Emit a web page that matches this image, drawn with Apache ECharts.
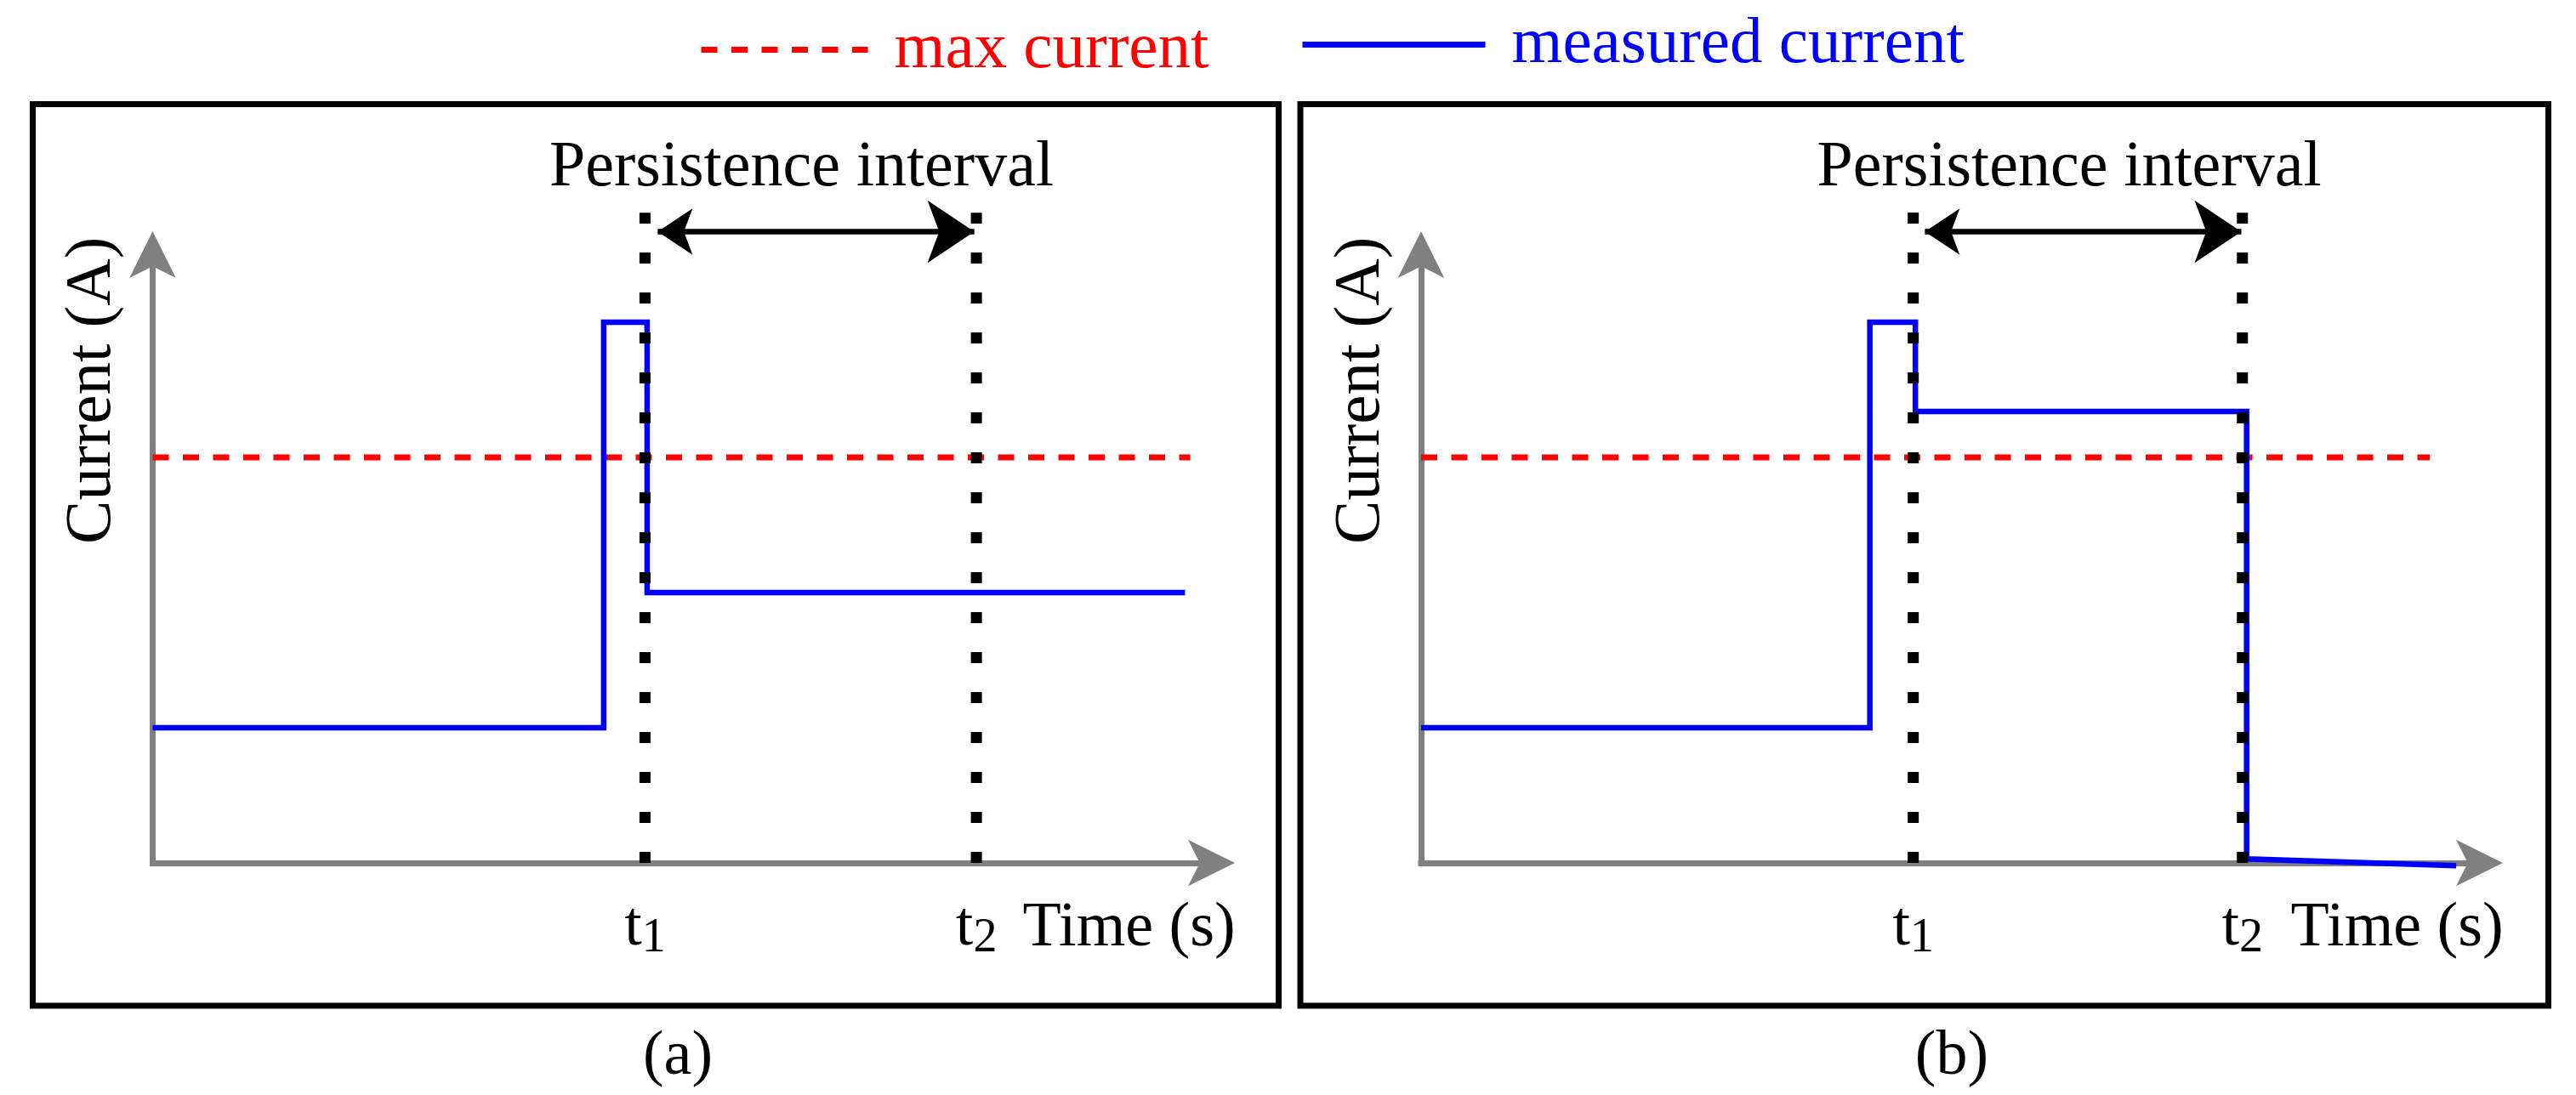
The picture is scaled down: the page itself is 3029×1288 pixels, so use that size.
<!DOCTYPE html>
<html>
<head>
<meta charset="utf-8">
<script src="https://cdn.jsdelivr.net/npm/echarts@6.0.0/dist/echarts.min.js"></script>
<style>
  html, body { margin: 0; padding: 0; background: #fff; }
  #chart { width: 3029px; height: 1288px; }
</style>
</head>
<body>
<div id="chart"></div>
<script>
// schematic units: x = time, y = current
const FONT = "'Liberation Serif', 'DejaVu Serif', serif";
const tickSubs = ["1", "2"];
const timesA = [4.65, 7.78]; // t1, t2 panel (a)
const timesB = [4.65, 7.76]; // t1, t2 panel (b)
const maxCurrent = 3;
const maxEndA = 9.8;
const maxEndB = 9.53;
const measuredAX = [0, 4.26, 4.26, 4.67, 4.67, 9.75];
const measuredAY = [1, 1, 4, 4, 2, 2];
const measuredBX = [0, 4.24, 4.24, 4.67, 4.67, 7.8, 7.8, 9.78];
const measuredBY = [1, 1, 4, 4, 3.34, 3.34, 0.03, -0.02];
const dotTopA = [4.81, 4.81];
const dotTopB = [4.89, 4.81];
const arrowA = [4.77, 7.76];
const arrowB = [4.76, 7.75];
const arrowY = 4.67;

const RED = "#ff0000";
const BLUE = "#0000ff";
const GRAY = "#808080";

let chart = echarts.init(document.getElementById("chart"), null, { renderer: "canvas" });

function pairs(xs, ys) {
  return xs.map((x, i) => [x, ys[i]]);
}

function subLabel(times) {
  return function (v) {
    let i = times.indexOf(v);
    return "{t|t}{s|" + tickSubs[i] + "}";
  };
}

function xAxisFor(idx, times) {
  return {
    type: "value",
    gridIndex: idx,
    min: 0,
    max: 10,
    splitLine: { show: false },
    axisTick: { show: false },
    axisLine: {
      show: true,
      onZero: false,
      symbol: ["none", "arrow"],
      symbolSize: [41, 55],
      symbolOffset: [0, 27.5],
      lineStyle: { color: GRAY, width: 7, cap: "square" },
    },
    axisLabel: {
      show: true,
      customValues: times,
      formatter: subLabel(times),
      margin: 37,
      rich: {
        t: { fontFamily: FONT, fontSize: 74, color: "#000", lineHeight: 80 },
        s: { fontFamily: FONT, fontSize: 56, color: "#000", lineHeight: 34, verticalAlign: "bottom" },
      },
    },
    name: "Time (s)",
    nameLocation: "end",
    nameGap: -222,
    nameMoveOverlap: false,
    nameTextStyle: {
      fontFamily: FONT,
      fontSize: 74,
      color: "#000",
      verticalAlign: "top",
      lineHeight: 156,
    },
  };
}

function yAxisFor(idx) {
  return {
    type: "value",
    gridIndex: idx,
    min: 0,
    max: 4.5,
    splitLine: { show: false },
    axisTick: { show: false },
    axisLabel: { show: false },
    axisLine: {
      show: true,
      onZero: false,
      symbol: ["none", "arrow"],
      symbolSize: [41, 55],
      symbolOffset: [0, 27.5],
      lineStyle: { color: GRAY, width: 7, cap: "square" },
    },
    name: "Current (A)",
    nameLocation: "middle",
    nameGap: 32,
    nameMoveOverlap: false,
    nameTextStyle: {
      fontFamily: FONT,
      fontSize: 77,
      color: "#000",
      lineHeight: 77,
      padding: [0, 0, 0, 396],
    },
  };
}

function panelSeries(idx, mx, my, maxEnd, times, tops, arrow) {
  let list = [
    {
      name: "max current",
      type: "line",
      xAxisIndex: idx,
      yAxisIndex: idx,
      data: [[0, maxCurrent], [maxEnd, maxCurrent]],
      showSymbol: false,
      symbol: "none",
      clip: false,
      z: 2,
      lineStyle: { color: RED, width: 7, type: [19, 16.5], cap: "butt" },
      itemStyle: { color: RED },
    },
    {
      name: "measured current",
      type: "line",
      xAxisIndex: idx,
      yAxisIndex: idx,
      data: pairs(mx, my),
      showSymbol: false,
      symbol: "none",
      clip: false,
      z: 3,
      lineStyle: { color: BLUE, width: 6.5, join: "miter" },
      itemStyle: { color: BLUE },
    },
  ];
  times.forEach((t, i) => {
    list.push({
      type: "line",
      xAxisIndex: idx,
      yAxisIndex: idx,
      data: [[t, 0], [t, tops[i]]],
      showSymbol: false,
      symbol: "none",
      clip: false,
      z: 4,
      lineStyle: { color: "#000", width: 13, type: [13, 34], cap: "butt" },
    });
  });
  // persistence interval double arrow
  list.push({
    type: "lines",
    coordinateSystem: "cartesian2d",
    xAxisIndex: idx,
    yAxisIndex: idx,
    clip: false,
    silent: true,
    z: 5,
    symbol: ["arrow", "arrow"],
    symbolSize: [41, 55],
    lineStyle: { color: "#000", width: 6.5, opacity: 1, curveness: 0 },
    data: [{ coords: [[arrow[0], arrowY], [arrow[1], arrowY]] }],
  });
  return list;
}

function txt(text, x, y, size) {
  return {
    type: "text",
    x: x,
    y: y,
    style: {
      text: text,
      font: size + "px " + FONT,
      fill: "#000",
      align: "center",
      verticalAlign: "middle",
      textAlign: "center",
      textVerticalAlign: "middle",
    },
  };
}

let option = {
  animation: false,
  backgroundColor: "#fff",
  legend: [
    {
      data: ["max current"],
      left: 821,
      top: 20,
      padding: 0,
      itemWidth: 196,
      itemHeight: 14,
      selectedMode: false,
      lineStyle: { width: 7 },
      itemStyle: { opacity: 0 },
      textStyle: { fontFamily: FONT, fontSize: 77, color: RED, lineHeight: 14, padding: [0, 0, 8, 26] },
    },
    {
      data: ["measured current"],
      left: 1528,
      top: 14,
      padding: 0,
      itemWidth: 215,
      itemHeight: 14,
      selectedMode: false,
      lineStyle: { width: 7 },
      itemStyle: { opacity: 0 },
      textStyle: { fontFamily: FONT, fontSize: 77, color: BLUE, lineHeight: 14, padding: [0, 0, 28, 26] },
    },
  ],
  grid: [
    { left: 179.5, top: 299.5, width: 1245, height: 715.5, containLabel: false, outerBoundsMode: "none" },
    { left: 1671, top: 299.5, width: 1244.5, height: 715.5, containLabel: false, outerBoundsMode: "none" },
  ],
  xAxis: [xAxisFor(0, timesA), xAxisFor(1, timesB)],
  yAxis: [yAxisFor(0), yAxisFor(1)],
  series: [
    ...panelSeries(0, measuredAX, measuredAY, maxEndA, timesA, dotTopA, arrowA),
    ...panelSeries(1, measuredBX, measuredBY, maxEndB, timesB, dotTopB, arrowB),
  ],
  graphic: [
    { type: "rect", shape: { x: 38.5, y: 122.5, width: 1465, height: 1060.5 }, style: { fill: "none", stroke: "#000", lineWidth: 7 } },
    { type: "rect", shape: { x: 1529, y: 122.5, width: 1467.5, height: 1060.5 }, style: { fill: "none", stroke: "#000", lineWidth: 7 } },
    txt("Persistence interval", 942.5, 198, 76),
    txt("Persistence interval", 2433, 198, 76),
    txt("(a)", 797, 1244, 74),
    txt("(b)", 2295, 1244, 74),
  ],
};

option && chart.setOption(option);
</script>
</body>
</html>
